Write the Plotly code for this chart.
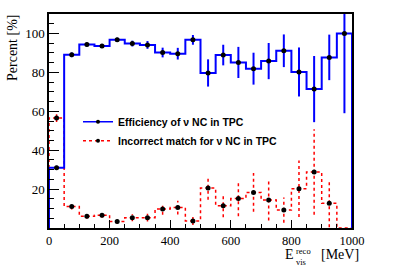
import plotly.graph_objects as go

# ---- data ----
bin_edges = [0, 50, 100, 150, 200, 250, 300, 350, 400, 450, 500,
             550, 600, 650, 700, 750, 800, 850, 900, 950, 1000]
eff_vals = [31, 89, 94.3, 93.5, 96.8, 94.8, 94.1, 90.2, 89.6, 96.7,
            79.7, 88.9, 85.1, 81.9, 85.8, 91.1, 80.2, 71.4, 87.7, 100]
eff_errs = [1.0, 1.2, 1.0, 1.0, 1.0, 1.5, 2.0, 2.5, 3.0, 2.5,
            7.0, 5.3, 8.0, 8.2, 9.3, 8.4, 12.6, 17.0, 11.7, 41.0]
mis_vals = [56.5, 11.0, 6.0, 6.6, 3.4, 5.3, 5.3, 9.8, 10.5, 3.6,
            20.5, 11.5, 15.1, 18.3, 14.4, 9.2, 20.2, 28.8, 12.7, 0]
mis_errs = [2.0, 1.5, 1.2, 1.3, 1.2, 1.8, 2.0, 3.0, 3.5, 2.0,
            6.0, 6.0, 9.0, 10.0, 10.5, 6.5, 14.5, 22.0, 12.3, 0]
eff_name = "Efficiency of \u03bd NC in TPC"
mis_name = "Incorrect match for \u03bd NC in TPC"
x_ticks = [0, 200, 400, 600, 800, 1000]
y_ticks = [20, 40, 60, 80, 100]

BLUE = "#0000ff"
RED = "#ff0000"

centers = [(bin_edges[i] + bin_edges[i + 1]) / 2 for i in range(len(bin_edges) - 1)]


def steps(vals):
    xs, ys = [bin_edges[0]], [0]
    for i, v in enumerate(vals):
        xs += [bin_edges[i], bin_edges[i + 1]]
        ys += [v, v]
    xs.append(bin_edges[-1])
    ys.append(0)
    return xs, ys


def errsegs(vals, errs, skip_zero=False):
    xs, ys = [], []
    for c, v, e in zip(centers, vals, errs):
        if skip_zero and v == 0:
            continue
        xs += [c, c, None]
        ys += [v - e, v + e, None]
    return xs, ys


fig = go.Figure()

# red (incorrect match)
sx, sy = steps(mis_vals)
fig.add_trace(go.Scatter(x=sx, y=sy, mode="lines", showlegend=False,
                         line=dict(color=RED, width=1.5, dash="dot")))
ex, ey = errsegs(mis_vals, mis_errs, skip_zero=True)
fig.add_trace(go.Scatter(x=ex, y=ey, mode="lines", showlegend=False,
                         line=dict(color=RED, width=1.5, dash="dot")))

# blue (efficiency)
sx, sy = steps(eff_vals)
fig.add_trace(go.Scatter(x=sx, y=sy, mode="lines", showlegend=False,
                         line=dict(color=BLUE, width=2)))
ex, ey = errsegs(eff_vals, eff_errs)
fig.add_trace(go.Scatter(x=ex, y=ey, mode="lines", showlegend=False,
                         line=dict(color=BLUE, width=2)))

# markers
mc = [c for c, v in zip(centers, mis_vals) if v != 0]
mv = [v for v in mis_vals if v != 0]
fig.add_trace(go.Scatter(x=mc, y=mv, mode="markers", showlegend=False,
                         marker=dict(color="black", size=5)))
fig.add_trace(go.Scatter(x=centers, y=eff_vals, mode="markers", showlegend=False,
                         marker=dict(color="black", size=5)))

# legend entries
fig.add_trace(go.Scatter(x=[None], y=[None], mode="lines+markers", name=eff_name,
                         line=dict(color=BLUE, width=1.5),
                         marker=dict(color="black", size=4)))
fig.add_trace(go.Scatter(x=[None], y=[None], mode="lines+markers", name=mis_name,
                         line=dict(color=RED, width=1.5, dash="dot"),
                         marker=dict(color="black", size=4)))

L, R, T, B = 49, 352, 12, 228
W, H = 415, 266


def px(x):
    return (x - L) / (R - L)


def py(y):
    return (B - y) / (B - T)


serif = "Liberation Serif"
fig.update_layout(
    width=W, height=H,
    margin=dict(l=L, r=W - R, t=T, b=H - B),
    plot_bgcolor="white", paper_bgcolor="white",
    showlegend=True,
    legend=dict(x=px(78), y=py(106), xanchor="left", yanchor="top",
                bgcolor="rgba(0,0,0,0)",
                font=dict(family="Liberation Sans", size=10.5, color="black", weight="bold"),
                tracegroupgap=0),
    xaxis=dict(range=[0, 1000], tickvals=x_ticks, ticks="inside", ticklen=8,
               tickwidth=1, tickcolor="black",
               minor=dict(dtick=50, ticks="inside", ticklen=4, tickcolor="black"),
               showgrid=False, zeroline=False, showline=True, linecolor="black",
               linewidth=1.5, mirror=True,
               tickfont=dict(family=serif, size=12.5, color="black")),
    yaxis=dict(range=[0, 110], tickvals=y_ticks, ticks="inside", ticklen=10,
               tickwidth=1, tickcolor="black",
               minor=dict(dtick=5, ticks="inside", ticklen=5, tickcolor="black"),
               showgrid=False, zeroline=False, showline=True, linecolor="black",
               linewidth=1.5, mirror=True,
               tickfont=dict(family=serif, size=13, color="black")),
)

ann = [
    dict(text="Percent [%]", x=px(12), y=py(12), xanchor="center", yanchor="top",
         textangle=-90, font=dict(family=serif, size=14, color="black")),
    dict(text="E", x=px(284), y=py(255), xanchor="left", yanchor="middle",
         font=dict(family=serif, size=14, color="black")),
    dict(text="reco", x=px(295), y=py(251.5), xanchor="left", yanchor="middle",
         font=dict(family=serif, size=8.5, color="black")),
    dict(text="vis", x=px(295), y=py(262), xanchor="left", yanchor="middle",
         font=dict(family=serif, size=8.5, color="black")),
    dict(text="[MeV]", x=px(320), y=py(255), xanchor="left", yanchor="middle",
         font=dict(family=serif, size=14, color="black")),
]
for a in ann:
    a.update(xref="paper", yref="paper", showarrow=False, borderpad=0)
fig.update_layout(annotations=ann)

fig.write_html("out.html", config={"displayModeBar": False},
               post_script="document.body.style.margin='0';")
